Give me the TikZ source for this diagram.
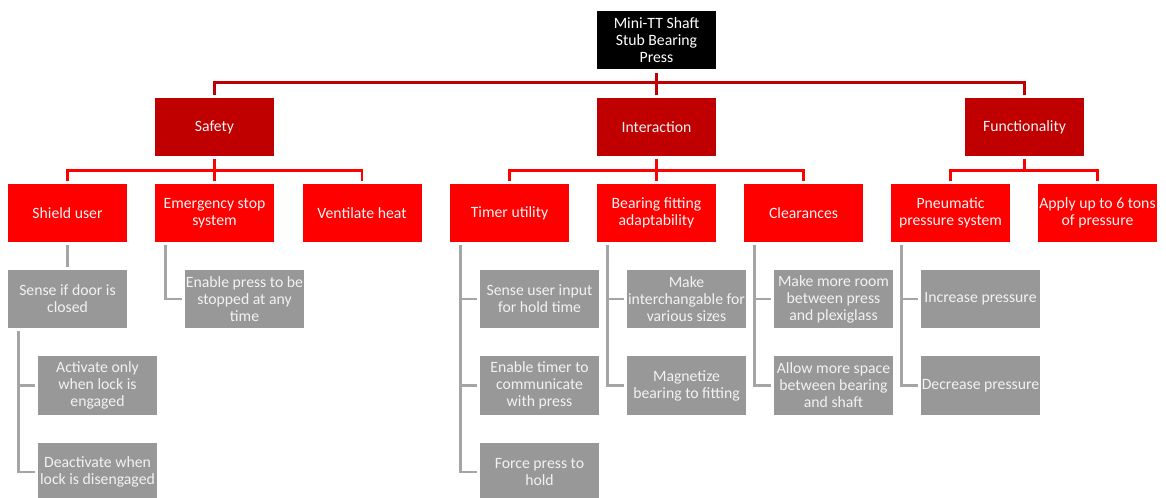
\documentclass[tikz,border=0pt]{standalone}
\usepackage{fontspec}
\setmainfont{Carlito}
\usetikzlibrary{calc}
\definecolor{dred}{HTML}{C00000}
\definecolor{bred}{HTML}{FF0000}
\definecolor{gbox}{HTML}{989898}
\definecolor{gline}{HTML}{A5A5A5}
\definecolor{wtext}{HTML}{F2F2F2}
\tikzset{
  box/.style={rectangle, inner sep=0pt, minimum width=89.25pt, minimum height=43.5pt,
    align=center, text=wtext, font=\fontsize{11.8}{12.8}\selectfont},
  rootbox/.style={box, fill=black, text=white},
  lvlone/.style={box, fill=dred},
  lvltwo/.style={box, fill=bred},
  lvlthree/.style={box, fill=gbox},
  topline/.style={draw=dred, line width=2.2pt},
  redline/.style={draw=bred, line width=2.2pt},
  grayline/.style={draw=gline, line width=2.2pt},
}
\begin{document}
\begin{tikzpicture}[x=0.75pt,y=-0.75pt]
\useasboundingbox (0,0) rectangle (1166,498);
\clip (0,0) rectangle (1166,498);
% root
\node[rootbox] (root) at (656.5,40.5) {Mini-TT Shaft\\Stub Bearing\\Press};
% level 1
\node[lvlone] (safety) at (214.5,127) {Safety};
\node[lvlone] (inter) at (656.5,127) {Interaction};
\node[lvlone] (func) at (1024.5,127) {Functionality};
% level 2
\node[lvltwo] (shield) at (67.5,213) {Shield user};
\node[lvltwo] (estop) at (214.5,213) {Emergency stop\\system};
\node[lvltwo] (vent) at (362,213) {Ventilate heat};
\node[lvltwo] (timer) at (509.5,213) {Timer utility};
\node[lvltwo] (bear) at (656.5,213) {Bearing fitting\\adaptability};
\node[lvltwo] (clear) at (803.5,213) {Clearances};
\node[lvltwo] (pneu) at (950.5,213) {Pneumatic\\pressure system};
\node[lvltwo] (apply) at (1097.5,213) {Apply up to 6 tons\\of pressure};
% level 3
\node[lvlthree] (door) at (67.5,299) {Sense if door is\\closed};
\node[lvlthree] (act) at (97.5,385.5) {Activate only\\when lock is\\engaged};
\node[lvlthree] (deact) at (97.5,472) {Deactivate when\\lock is disengaged};
\node[lvlthree] (enable) at (244.5,299) {Enable press to be\\stopped at any\\time};
\node[lvlthree] (t1) at (539.5,299) {Sense user input\\for hold time};
\node[lvlthree] (t2) at (539.5,385.5) {Enable timer to\\communicate\\with press};
\node[lvlthree] (t3) at (539.5,472) {Force press to\\hold};
\node[lvlthree] (b1) at (686.5,299) {Make\\interchangable for\\various sizes};
\node[lvlthree] (b2) at (686.5,385.5) {Magnetize\\bearing to fitting};
\node[lvlthree] (c1) at (833.5,299) {Make more room\\between press\\and plexiglass};
\node[lvlthree] (c2) at (833.5,385.5) {Allow more space\\between bearing\\and shaft};
\node[lvlthree] (p1) at (980.5,299) {Increase pressure};
\node[lvlthree] (p2) at (980.5,385.5) {Decrease pressure};
% root connectors
\draw[topline] ($(safety.north)+(0,-3)$) |- ($(root.south)+(0,13)$) -| ($(func.north)+(0,-3)$);
\draw[topline] ($(root.south)+(0,3)$) -- ($(inter.north)+(0,-3)$);
% level 1 -> level 2
\draw[redline] ($(shield.north)+(0,-3)$) |- ($(safety.south)+(0,14)$) -| ($(vent.north)+(0,-3)$);
\draw[redline] ($(safety.south)+(0,3)$) -- ($(estop.north)+(0,-3)$);
\draw[redline] ($(timer.north)+(0,-3)$) |- ($(inter.south)+(0,14)$) -| ($(clear.north)+(0,-3)$);
\draw[redline] ($(inter.south)+(0,3)$) -- ($(bear.north)+(0,-3)$);
\draw[redline] ($(pneu.north)+(0,-3)$) |- ($(func.south)+(0,14)$) -| ($(apply.north)+(0,-3)$);
\draw[redline] ($(func.south)+(0,3)$) -- ($(func.south)+(0,14)$);
% level 2 -> level 3
\draw[grayline] ($(shield.south)+(0,3)$) -- ($(door.north)+(0,-3)$);
\draw[grayline] ($(door.south west)+(11,3)$) |- ($(act.west)+(-3,0)$);
\draw[grayline] ($(door.south west)+(11,3)$) |- ($(deact.west)+(-3,0)$);
\draw[grayline] ($(estop.south west)+(11,3)$) |- ($(enable.west)+(-3,0)$);
\draw[grayline] ($(timer.south west)+(11,3)$) |- ($(t1.west)+(-3,0)$);
\draw[grayline] ($(timer.south west)+(11,3)$) |- ($(t2.west)+(-3,0)$);
\draw[grayline] ($(timer.south west)+(11,3)$) |- ($(t3.west)+(-3,0)$);
\draw[grayline] ($(bear.south west)+(11,3)$) |- ($(b1.west)+(-3,0)$);
\draw[grayline] ($(bear.south west)+(11,3)$) |- ($(b2.west)+(-3,0)$);
\draw[grayline] ($(clear.south west)+(11,3)$) |- ($(c1.west)+(-3,0)$);
\draw[grayline] ($(clear.south west)+(11,3)$) |- ($(c2.west)+(-3,0)$);
\draw[grayline] ($(pneu.south west)+(11,3)$) |- ($(p1.west)+(-3,0)$);
\draw[grayline] ($(pneu.south west)+(11,3)$) |- ($(p2.west)+(-3,0)$);
\end{tikzpicture}
\end{document}
